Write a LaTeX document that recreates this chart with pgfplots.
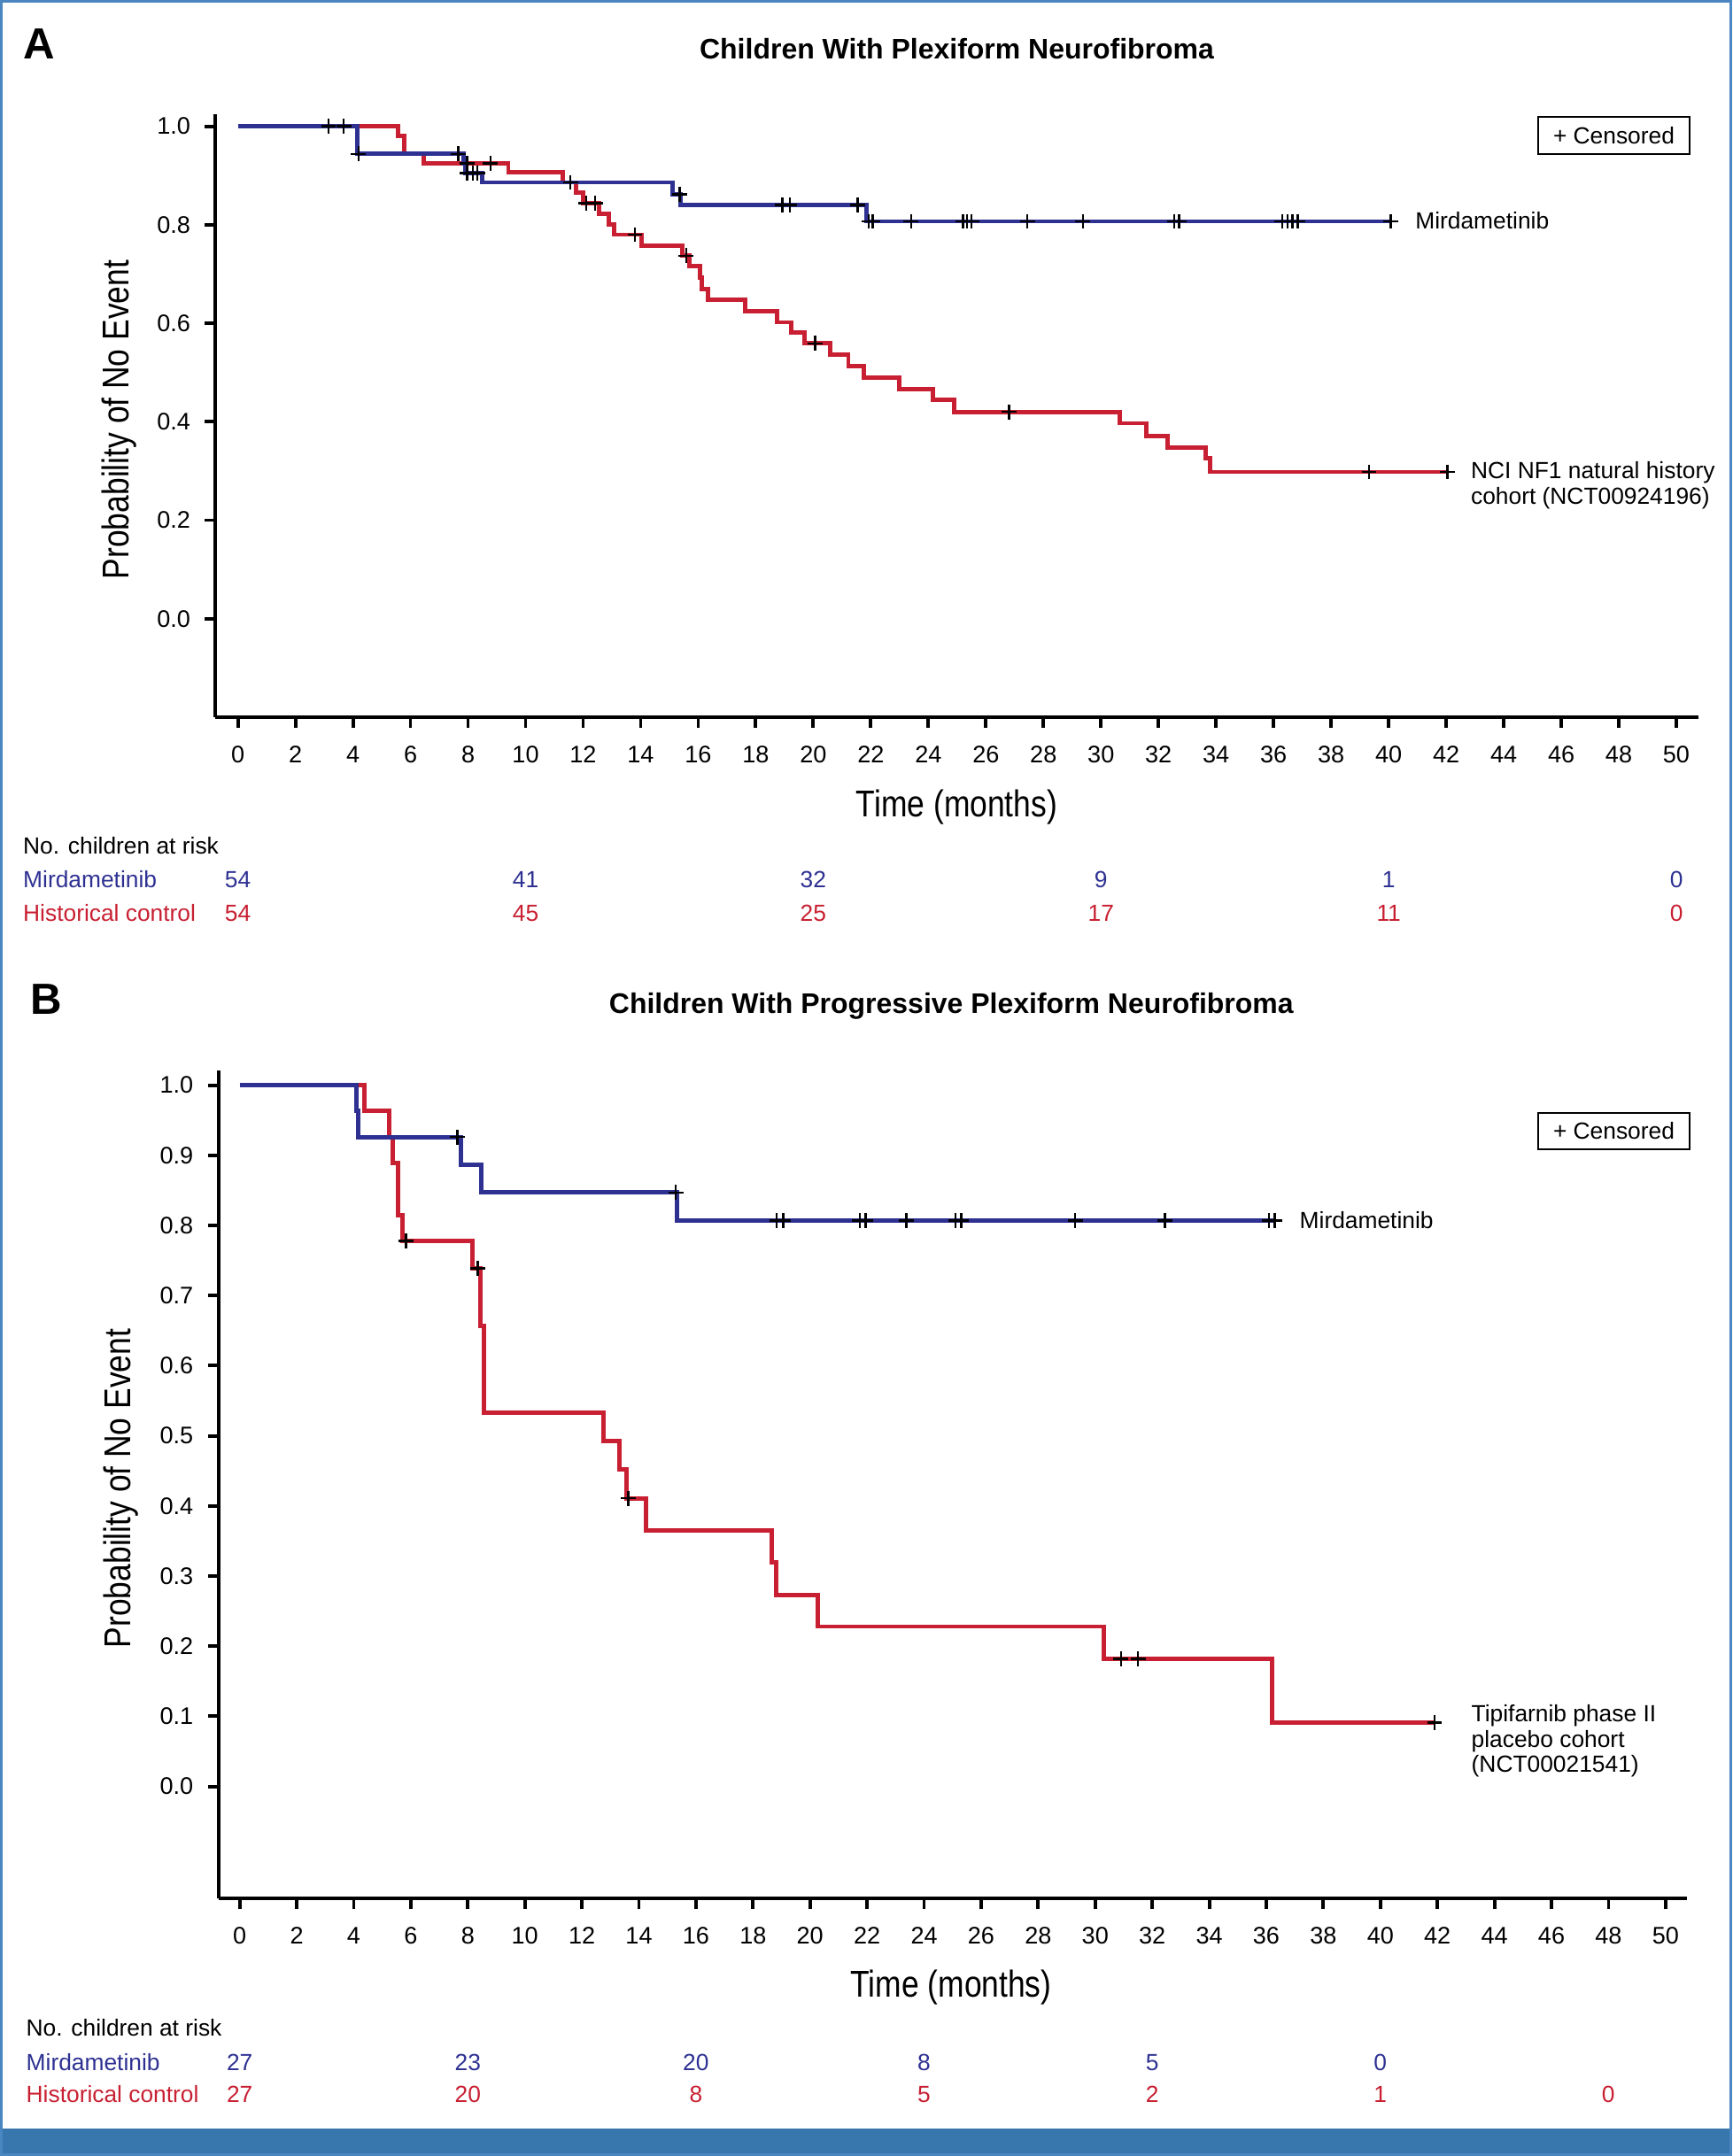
\documentclass[border=0pt]{standalone}
\usepackage{fontspec}
\setmainfont{Liberation Sans}
\newfontfamily\condfont[FakeStretch=0.84]{Liberation Sans}
\usepackage{pgfplots}
\pgfplotsset{compat=1.18}
\definecolor{kmblue}{RGB}{46,49,146}
\definecolor{kmred}{RGB}{200,32,50}
\definecolor{bandblue}{RGB}{56,119,174}
\definecolor{frameblue}{RGB}{74,134,192}
\newcommand{\tfont}{\fontsize{7.5}{9}\selectfont}
\pgfplotsset{kmaxis/.style={
  scale only axis, axis lines=left,
  axis line style={-, line width=1.2pt},
  tick align=outside, major tick length=0.12cm,
  tick style={line width=1.1pt, black},
  xtick={0,2,...,50},
  tick label style={font=\fontsize{7.7}{9}\selectfont},
  xticklabel style={yshift=-0.08cm},
  yticklabel style={xshift=-0.04cm, /pgf/number format/.cd, fixed, fixed zerofill, precision=1},
  /pgf/number format/assume math mode=true,
  clip=false,
  kmb/.style={const plot, kmblue, line width=1.4pt},
  kmr/.style={const plot, kmred, line width=1.4pt},
  cens/.style={only marks, mark=+, mark size=2.4pt, black, mark options={line width=0.7pt}},
}}
\begin{document}
\begin{tikzpicture}
\path[use as bounding box] (0,0) rectangle (19.56,24.35);
\fill[white] (0,0) rectangle (19.56,24.35);
\fill[bandblue] (0,0) rectangle (19.56,0.31);
\draw[frameblue, line width=0.03cm] (0.015,0.015) rectangle (19.545,24.335);

% ---------------- Panel A ----------------
\node[anchor=base west, inner sep=0, font=\fontsize{14}{16}\selectfont\bfseries] at (0.26,23.68) {A};
\node[anchor=base, inner sep=0, font=\fontsize{9.1}{11}\selectfont\bfseries] at (10.805,23.683) {Children With Plexiform Neurofibroma};
\begin{axis}[kmaxis, at={(2.433cm,16.25cm)}, anchor=south west,
  width=16.744cm, height=6.807cm,
  xmin=-0.78, xmax=50.76, ymin=-0.2, ymax=1.024,
  ytick={0,0.2,0.4,0.6,0.8,1.0}]
\addplot[kmr] coordinates {(0,1) (5.56,0.981) (5.77,0.944) (6.45,0.925) (9.4,0.906) (11.3,0.886) (11.76,0.866) (12.0,0.844) (12.56,0.822) (12.88,0.80) (13.07,0.78) (14.04,0.758) (15.44,0.737) (15.68,0.716) (16.06,0.692) (16.13,0.669) (16.33,0.648) (17.64,0.625) (18.74,0.602) (19.22,0.582) (19.7,0.559) (20.6,0.536) (21.22,0.513) (21.77,0.49) (22.99,0.467) (24.17,0.445) (24.9,0.42) (30.65,0.397) (31.57,0.371) (32.32,0.347) (33.63,0.326) (33.79,0.298) (42.04,0.298)};
\addplot[kmb] coordinates {(0,1) (4.16,0.944) (7.84,0.925) (7.92,0.905) (8.5,0.886) (15.1,0.862) (15.4,0.84) (21.85,0.807) (40.07,0.807)};
\addplot[cens] coordinates {(3.15,1) (3.68,1) (8.78,0.925) (11.56,0.886) (12.1,0.844) (12.42,0.844) (13.8,0.78) (15.58,0.737) (20.06,0.559) (26.8,0.42) (39.32,0.298) (42.04,0.298)};
\addplot[cens] coordinates {(4.19,0.944) (7.66,0.944) (7.97,0.925) (7.97,0.905) (8.17,0.905) (8.33,0.905) (15.35,0.862) (18.92,0.84) (19.18,0.84) (21.54,0.84) (21.93,0.807) (22.06,0.807) (23.4,0.807) (25.2,0.807) (25.35,0.807) (25.5,0.807) (27.44,0.807) (29.37,0.807) (32.55,0.807) (32.72,0.807) (36.3,0.807) (36.48,0.807) (36.66,0.807) (36.84,0.807) (40.07,0.807)};
\end{axis}
\node[rotate=90, inner sep=0, font=\condfont\fontsize{12}{14}\selectfont] at (1.35,19.61) {Probability of No Event};
\node[anchor=base, inner sep=0, font=\condfont\fontsize{12}{14}\selectfont] at (10.805,15.123) {Time (months)};
\draw[line width=0.8pt] (17.37,22.61) rectangle (19.08,23.03);
\node[inner sep=0, font=\tfont] at (18.225,22.82) {+ Censored};
\node[anchor=base west, inner sep=0, font=\tfont] at (15.976,21.767) {Mirdametinib};
\node[anchor=base west, inner sep=0, font=\tfont] at (16.604,18.943) {NCI NF1 natural history};
\node[anchor=base west, inner sep=0, font=\tfont] at (16.604,18.657) {cohort (NCT00924196)};
% at risk A
\node[anchor=base west, inner sep=0, font=\tfont] at (0.255,14.707) {No. children at risk};
\node[anchor=base west, inner sep=0, font=\tfont, text=kmblue] at (0.255,14.327) {Mirdametinib};
\node[anchor=base west, inner sep=0, font=\tfont, text=kmred] at (0.255,13.943) {Historical control};
\foreach \x/\a/\b in {2.686/54/54, 5.935/41/45, 9.184/32/25, 12.433/9/17, 15.682/1/11, 18.931/0/0}{
  \node[anchor=base, inner sep=0, font=\tfont, text=kmblue] at (\x,14.327) {\a};
  \node[anchor=base, inner sep=0, font=\tfont, text=kmred] at (\x,13.943) {\b};
}

% ---------------- Panel B ----------------
\node[anchor=base west, inner sep=0, font=\fontsize{14}{16}\selectfont\bfseries] at (0.34,12.89) {B};
\node[anchor=base, inner sep=0, font=\fontsize{9.1}{11}\selectfont\bfseries] at (10.743,12.90) {Children With Progressive Plexiform Neurofibroma};
\begin{axis}[kmaxis, at={(2.467cm,2.907cm)}, anchor=south west,
  width=16.583cm, height=9.353cm,
  xmin=-0.745, xmax=50.75, ymin=-0.16, ymax=1.021,
  ytick={0,0.1,0.2,0.3,0.4,0.5,0.6,0.7,0.8,0.9,1.0}]
\addplot[kmr] coordinates {(0,1) (4.36,0.963) (5.23,0.926) (5.36,0.889) (5.55,0.815) (5.71,0.778) (8.16,0.739) (8.43,0.657) (8.56,0.533) (12.76,0.493) (13.31,0.452) (13.55,0.411) (14.26,0.365) (18.67,0.319) (18.8,0.273) (20.27,0.228) (30.3,0.182) (36.2,0.091) (41.9,0.091)};
\addplot[kmb] coordinates {(0,1) (4.09,0.963) (4.15,0.926) (7.77,0.886) (8.48,0.847) (15.34,0.807) (36.3,0.807)};
\addplot[cens] coordinates {(5.83,0.778) (8.35,0.739) (13.63,0.411) (30.9,0.182) (31.5,0.182) (41.9,0.091)};
\addplot[cens] coordinates {(7.64,0.926) (15.29,0.847) (18.83,0.807) (19.06,0.807) (21.74,0.807) (21.95,0.807) (23.38,0.807) (25.1,0.807) (25.3,0.807) (29.3,0.807) (32.45,0.807) (36.1,0.807) (36.3,0.807)};
\end{axis}
\node[rotate=90, inner sep=0, font=\condfont\fontsize{12}{14}\selectfont] at (1.37,7.54) {Probability of No Event};
\node[anchor=base, inner sep=0, font=\condfont\fontsize{12}{14}\selectfont] at (10.74,1.79) {Time (months)};
\draw[line width=0.8pt] (17.37,11.37) rectangle (19.08,11.78);
\node[inner sep=0, font=\tfont] at (18.225,11.575) {+ Censored};
\node[anchor=base west, inner sep=0, font=\tfont] at (14.67,10.47) {Mirdametinib};
\node[anchor=base west, inner sep=0, font=\tfont] at (16.61,4.90) {Tipifarnib phase II};
\node[anchor=base west, inner sep=0, font=\tfont] at (16.61,4.61) {placebo cohort};
\node[anchor=base west, inner sep=0, font=\tfont] at (16.61,4.33) {(NCT00021541)};
% at risk B
\node[anchor=base west, inner sep=0, font=\tfont] at (0.29,1.35) {No. children at risk};
\node[anchor=base west, inner sep=0, font=\tfont, text=kmblue] at (0.29,0.967) {Mirdametinib};
\node[anchor=base west, inner sep=0, font=\tfont, text=kmred] at (0.29,0.60) {Historical control};
\foreach \x/\a in {2.707/27, 5.283/23, 7.859/20, 10.435/8, 13.011/5, 15.587/0}{
  \node[anchor=base, inner sep=0, font=\tfont, text=kmblue] at (\x,0.967) {\a};
}
\foreach \x/\b in {2.707/27, 5.283/20, 7.859/8, 10.435/5, 13.011/2, 15.587/1, 18.163/0}{
  \node[anchor=base, inner sep=0, font=\tfont, text=kmred] at (\x,0.60) {\b};
}
\end{tikzpicture}
\end{document}
